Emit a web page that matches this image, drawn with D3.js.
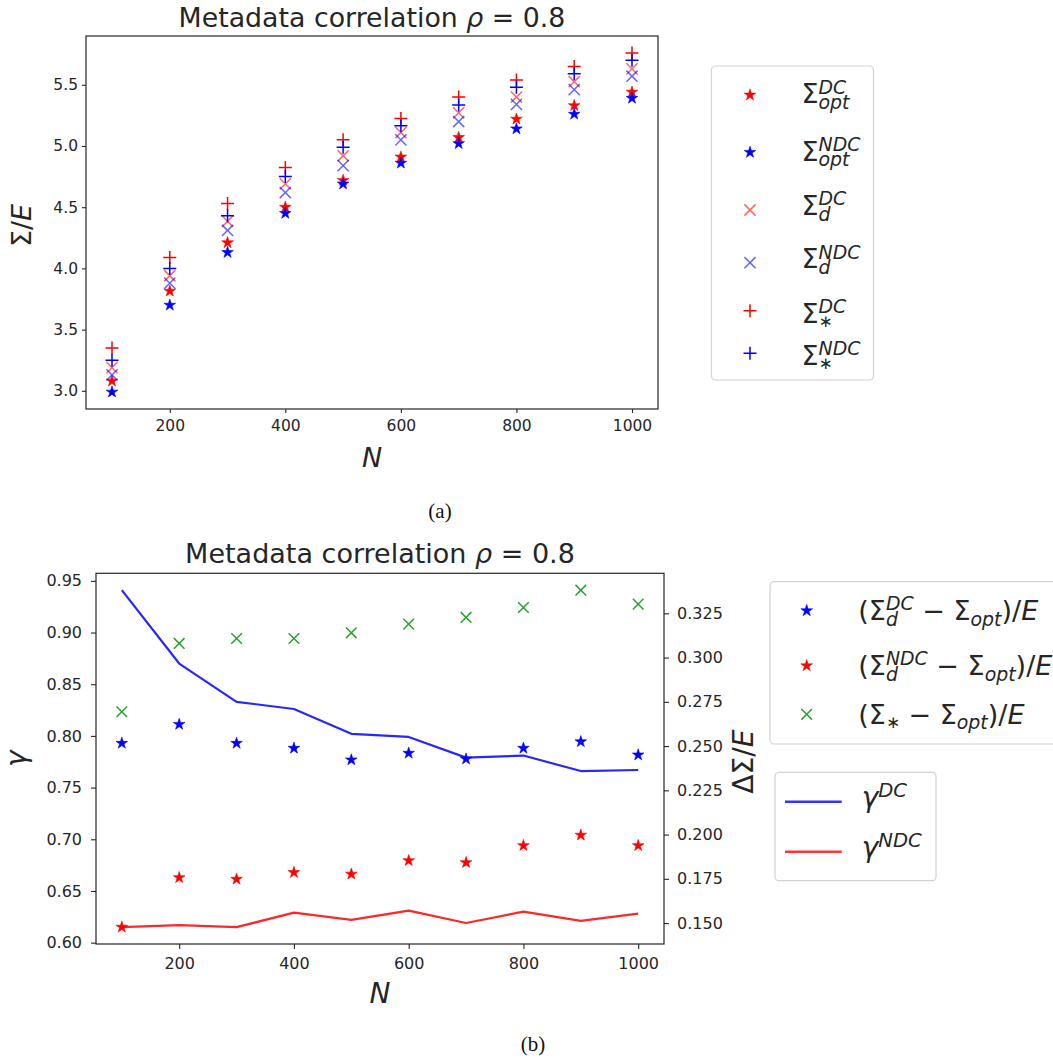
<!DOCTYPE html>
<html>
<head>
<meta charset="utf-8">
<script src="https://cdn.jsdelivr.net/npm/d3@7"></script>
<style>
  body { margin: 0; background: #fff; }
  svg { display: block; }
</style>
</head>
<body>
<svg id="fig" width="1053" height="1061"></svg>
<script>
// ---- data -------------------------------------------------------------
const sampleSizes = [100, 200, 300, 400, 500, 600, 700, 800, 900, 1000];

// panel (a): Σ/E
const sigmaOptDC   = [3.08, 3.815, 4.21, 4.50, 4.72, 4.91, 5.07, 5.22, 5.33, 5.44];
const sigmaOptNDC  = [2.99, 3.70, 4.13, 4.45, 4.69, 4.86, 5.02, 5.14, 5.26, 5.39];
const sigmaDDC     = [3.19, 3.94, 4.385, 4.69, 4.92, 5.11, 5.27, 5.40, 5.525, 5.63];
const sigmaDNDC    = [3.13, 3.88, 4.31, 4.62, 4.84, 5.05, 5.20, 5.34, 5.46, 5.57];
const sigmaStarDC  = [3.35, 4.09, 4.53, 4.825, 5.05, 5.225, 5.40, 5.54, 5.65, 5.76];
const sigmaStarNDC = [3.25, 4.00, 4.43, 4.75, 4.99, 5.165, 5.335, 5.48, 5.59, 5.70];

// panel (b): γ (left axis) and ΔΣ/E (right axis)
const gammaDC  = [0.941, 0.870, 0.833, 0.826, 0.802, 0.799, 0.779, 0.781, 0.766, 0.767];
const gammaNDC = [0.615, 0.617, 0.615, 0.629, 0.622, 0.631, 0.619, 0.630, 0.621, 0.628];
const gapDDC   = [0.2516, 0.2623, 0.2516, 0.2488, 0.2422, 0.2460, 0.2427, 0.2488, 0.2525, 0.2450];
const gapDNDC  = [0.1477, 0.1757, 0.1748, 0.1786, 0.1777, 0.1853, 0.1842, 0.1938, 0.1997, 0.1938];
const gapStar  = [0.2694, 0.3080, 0.3108, 0.3108, 0.3140, 0.3189, 0.3227, 0.3283, 0.3381, 0.3302];

// tick labels
const xTicks      = [200, 400, 600, 800, 1000];
const sigmaTicks  = [3.0, 3.5, 4.0, 4.5, 5.0, 5.5];
const gammaTicks  = [0.60, 0.65, 0.70, 0.75, 0.80, 0.85, 0.90, 0.95];
const gapTicks    = [0.150, 0.175, 0.200, 0.225, 0.250, 0.275, 0.300, 0.325];

const titleText = [{t: "Metadata correlation "}, {t: "ρ", i: true}, {t: " = 0.8"}];

// ---- helpers ----------------------------------------------------------
const svg = d3.select("#fig");
const INK = "#262626";
const SANS = '"DejaVu Sans", sans-serif';
const SERIF = '"Liberation Serif", "Times New Roman", serif';

// autoscale with 5% padding on each side
function padded(arrays, frac = 0.05) {
  const [a, b] = d3.extent(arrays.flat());
  const m = (b - a) * frac;
  return [a - m, b + m];
}

// math-text renderer: one <text> holding plain/italic runs and stacked scripts
function mathText(parent, parts, size, fill = INK) {
  const text = parent.append("text")
    .style("font-family", SANS).style("white-space", "pre")
    .attr("font-size", size).attr("fill", fill);
  let x = 0;
  parts.forEach(p => {
    if (p.t !== undefined) {
      const ts = text.append("tspan").attr("x", x).attr("y", 0)
        .attr("font-style", p.i ? "italic" : "normal").text(p.t);
      x += ts.node().getComputedTextLength();
    } else {
      let w = 0;
      if (p.sup) {
        const ts = text.append("tspan").attr("x", x).attr("y", -0.36 * size)
          .attr("font-size", size * 0.7).attr("font-style", "italic").text(p.sup);
        w = Math.max(w, ts.node().getComputedTextLength());
      }
      if (p.sub) {
        const star = p.sub === "∗";
        const ts = text.append("tspan").attr("x", x).attr("y", (star ? 0.16 : 0.21) * size)
          .attr("font-size", size * (star ? 0.62 : 0.7))
          .attr("font-style", star ? "normal" : "italic").text(p.sub);
        w = Math.max(w, ts.node().getComputedTextLength());
      }
      x += w;
    }
  });
  return { g: text, width: x };
}

function centered(parent, parts, size, cx, baseline) {
  const m = mathText(parent, parts, size);
  m.g.attr("transform", `translate(${cx - m.width / 2},${baseline})`);
}
function vertical(parent, parts, size, bx, cy) {
  const m = mathText(parent, parts, size);
  m.g.attr("transform", `translate(${bx},${cy + m.width / 2}) rotate(-90)`);
}

const starPath = d3.symbol().type(d3.symbolStar).size(42)();
const plusPath = r => `M${-r},0H${r}M0,${-r}V${r}`;
const crossPath = r => `M${-r},${-r}L${r},${r}M${-r},${r}L${r},${-r}`;

function marker(sel, kind, color) {
  if (kind === "star") {
    sel.attr("d", starPath).attr("fill", color).attr("stroke", color).attr("stroke-width", 0.6);
  } else if (kind === "plus") {
    sel.attr("d", plusPath(6.5)).attr("fill", "none").attr("stroke", color).attr("stroke-width", 1.5);
  } else if (kind === "x") {
    sel.attr("d", crossPath(5.6)).attr("fill", "none").attr("stroke", color).attr("stroke-width", 1.5)
      .attr("stroke-opacity", 0.6);
  } else if (kind === "xg") {
    sel.attr("d", crossPath(5.3)).attr("fill", "none").attr("stroke", color).attr("stroke-width", 1.5);
  }
}

function styleAxis(g, fontSize) {
  g.select(".domain").remove();
  g.selectAll(".tick line").attr("stroke", INK).attr("stroke-width", 1.1);
  g.selectAll(".tick text").attr("fill", INK).attr("font-size", fontSize).style("font-family", SANS);
}

function legendBox(x, y, w, h) {
  svg.append("rect").attr("x", x).attr("y", y).attr("width", w).attr("height", h)
    .attr("rx", 4).attr("fill", "#fff").attr("stroke", "#d2d2d2").attr("stroke-width", 1.2);
}

function caption(label, cx, baseline) {
  svg.append("text").attr("x", cx).attr("y", baseline).attr("text-anchor", "middle")
    .style("font-family", SERIF).attr("font-size", 21).attr("fill", "#111").text(label);
}

// ---- panel (a) --------------------------------------------------------
{
  const L = 86, R = 658, T = 36, B = 409;
  const x = d3.scaleLinear().domain(padded([sampleSizes])).range([L, R]);
  const ySeries = [sigmaOptDC, sigmaOptNDC, sigmaDDC, sigmaDNDC, sigmaStarDC, sigmaStarNDC];
  const y = d3.scaleLinear().domain(padded(ySeries)).range([B, T]);

  const series = [
    { values: sigmaOptDC,   color: "#ff0000", kind: "star", label: [{t: "Σ"}, {sup: "DC",  sub: "opt"}] },
    { values: sigmaOptNDC,  color: "#0000ff", kind: "star", label: [{t: "Σ"}, {sup: "NDC", sub: "opt"}] },
    { values: sigmaDDC,     color: "#ff0000", kind: "x",    label: [{t: "Σ"}, {sup: "DC",  sub: "d"}] },
    { values: sigmaDNDC,    color: "#0000ff", kind: "x",    label: [{t: "Σ"}, {sup: "NDC", sub: "d"}] },
    { values: sigmaStarDC,  color: "#ff0000", kind: "plus", label: [{t: "Σ"}, {sup: "DC",  sub: "∗"}] },
    { values: sigmaStarNDC, color: "#0000ff", kind: "plus", label: [{t: "Σ"}, {sup: "NDC", sub: "∗"}] }
  ];

  const plot = svg.append("g");
  series.forEach(s => {
    plot.append("g").selectAll("path")
      .data(d3.zip(sampleSizes, s.values))
      .join("path")
      .attr("transform", d => `translate(${x(d[0])},${y(d[1])})`)
      .call(marker, s.kind, s.color);
  });

  svg.append("rect").attr("x", L).attr("y", T).attr("width", R - L).attr("height", B - T)
    .attr("fill", "none").attr("stroke", INK).attr("stroke-width", 1.2);

  svg.append("g").attr("transform", `translate(0,${B})`)
    .call(d3.axisBottom(x).tickValues(xTicks).tickFormat(d3.format("d")).tickSize(4).tickPadding(7).tickSizeOuter(0))
    .call(styleAxis, 15.5);
  svg.append("g").attr("transform", `translate(${L},0)`)
    .call(d3.axisLeft(y).tickValues(sigmaTicks).tickFormat(d3.format(".1f")).tickSize(4).tickPadding(4).tickSizeOuter(0))
    .call(styleAxis, 15.5);

  centered(svg, titleText, 26.8, (L + R) / 2, 26.5);
  centered(svg, [{t: "N", i: true}], 27, (L + R) / 2, 467);
  vertical(svg, [{t: "Σ/"}, {t: "E", i: true}], 27, 31, (T + B) / 2 + 3);

  // legend
  legendBox(711.5, 66, 162, 314);
  const rowMarkerY = [95, 152.3, 210, 262.7, 310.7, 353.3];
  const rowBaseY   = [103.3, 160.7, 215, 268.3, 322.7, 365];
  series.forEach((s, i) => {
    svg.append("path").attr("transform", `translate(750,${rowMarkerY[i]})`).call(marker, s.kind, s.color);
    const m = mathText(svg, s.label, 27);
    m.g.attr("transform", `translate(801.5,${rowBaseY[i]})`);
  });

  caption("(a)", 440, 518);
}

// ---- panel (b) --------------------------------------------------------
{
  const L = 96, R = 664, T = 573.3, B = 944;
  const x = d3.scaleLinear().domain(padded([sampleSizes])).range([L, R]);
  const yL = d3.scaleLinear().domain(padded([gammaDC, gammaNDC])).range([B, T]);
  const yR = d3.scaleLinear().domain(padded([gapDDC, gapDNDC, gapStar])).range([B, T]);

  const lines = [
    { values: gammaDC,  color: "#0000ff", label: [{t: "γ", i: true}, {sup: "DC"}] },
    { values: gammaNDC, color: "#ff0000", label: [{t: "γ", i: true}, {sup: "NDC"}] }
  ];
  const points = [
    { values: gapDDC,  color: "#0000ff", kind: "star",
      label: [{t: "("}, {t: "Σ"}, {sup: "DC", sub: "d"}, {t: " − "}, {t: "Σ"}, {sub: "opt"}, {t: ")/"}, {t: "E", i: true}] },
    { values: gapDNDC, color: "#ff0000", kind: "star",
      label: [{t: "("}, {t: "Σ"}, {sup: "NDC", sub: "d"}, {t: " − "}, {t: "Σ"}, {sub: "opt"}, {t: ")/"}, {t: "E", i: true}] },
    { values: gapStar, color: "#2ca02c", kind: "xg",
      label: [{t: "("}, {t: "Σ"}, {sub: "∗"}, {t: " − "}, {t: "Σ"}, {sub: "opt"}, {t: ")/"}, {t: "E", i: true}] }
  ];

  const line = d3.line().x(d => x(d[0])).y(d => yL(d[1]));
  lines.forEach(l => {
    svg.append("path").datum(d3.zip(sampleSizes, l.values)).attr("d", line)
      .attr("fill", "none").attr("stroke", l.color).attr("stroke-width", 2.2)
      .attr("stroke-opacity", 0.85).attr("stroke-linejoin", "round");
  });
  points.forEach(s => {
    svg.append("g").selectAll("path")
      .data(d3.zip(sampleSizes, s.values))
      .join("path")
      .attr("transform", d => `translate(${x(d[0])},${yR(d[1])})`)
      .call(marker, s.kind, s.color);
  });

  svg.append("rect").attr("x", L).attr("y", T).attr("width", R - L).attr("height", B - T)
    .attr("fill", "none").attr("stroke", INK).attr("stroke-width", 1.2);

  svg.append("g").attr("transform", `translate(0,${B})`)
    .call(d3.axisBottom(x).tickValues(xTicks).tickFormat(d3.format("d")).tickSize(5).tickPadding(9).tickSizeOuter(0))
    .call(styleAxis, 16);
  svg.append("g").attr("transform", `translate(${L},0)`)
    .call(d3.axisLeft(yL).tickValues(gammaTicks).tickFormat(d3.format(".2f")).tickSize(5).tickPadding(9).tickSizeOuter(0))
    .call(styleAxis, 16);
  svg.append("g").attr("transform", `translate(${R},0)`)
    .call(d3.axisRight(yR).tickValues(gapTicks).tickFormat(d3.format(".3f")).tickSize(5).tickPadding(8).tickSizeOuter(0))
    .call(styleAxis, 16);

  centered(svg, titleText, 27, (L + R) / 2, 563);
  centered(svg, [{t: "N", i: true}], 28, (L + R) / 2, 1003);
  vertical(svg, [{t: "γ", i: true}], 28, 26, (T + B) / 2);
  vertical(svg, [{t: "ΔΣ/"}, {t: "E", i: true}], 28, 753, (T + B) / 2 + 3);

  // legend for the ΔΣ/E markers
  legendBox(770, 581.7, 300, 162.3);
  const mY = [610.7, 665.7, 714.3];
  points.forEach((s, i) => {
    svg.append("path").attr("transform", `translate(806.7,${mY[i]})`).call(marker, s.kind, s.color);
    const m = mathText(svg, s.label, 27);
    m.g.attr("transform", `translate(858.3,${mY[i] + 9.5})`);
  });

  // legend for the γ lines
  legendBox(775, 772.3, 161, 108.4);
  const lY = [801.7, 851.7];
  lines.forEach((l, i) => {
    svg.append("line").attr("x1", 785).attr("x2", 841.7).attr("y1", lY[i]).attr("y2", lY[i])
      .attr("stroke", l.color).attr("stroke-width", 2.4).attr("stroke-opacity", 0.8);
    const m = mathText(svg, l.label, 28);
    m.g.attr("transform", `translate(861.7,${lY[i] + 5.6})`);
  });

  caption("(b)", 533, 1051);
}
</script>
</body>
</html>
